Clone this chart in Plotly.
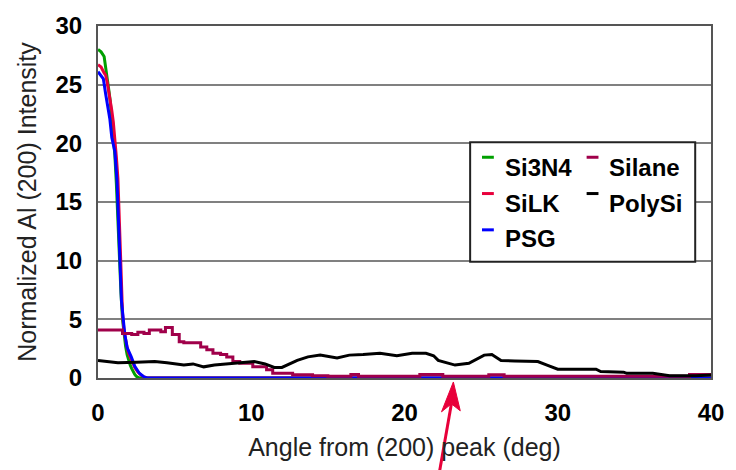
import plotly.graph_objects as go

# ---- data -------------------------------------------------------------
si3n4_x = [0, 0.2, 0.4, 0.5, 0.6, 0.7, 0.8, 0.9, 1.0, 1.1, 1.2, 1.3, 1.4, 1.5, 1.6,
           1.7, 1.8, 1.9, 2.0, 2.1, 2.2, 2.3, 2.4, 2.5, 2.6, 2.7, 40]
si3n4_y = [28.0, 27.8, 27.4, 26.6, 25.6, 24.6, 23.6, 22.2, 20.8, 19.0, 16.5, 13.0, 10.0, 7.2, 5.0,
           3.6, 2.7, 2.0, 1.5, 1.1, 0.8, 0.5, 0.3, 0.15, 0.05, 0, 0]

silk_x = [0, 0.2, 0.4, 0.5, 0.6, 0.7, 0.8, 0.9, 1.0, 1.1, 1.2, 1.3, 1.4, 1.5, 1.6,
          1.7, 1.8, 1.9, 2.0, 2.2, 2.4, 2.6, 2.8, 3.0, 3.2, 40]
silk_y = [26.7, 26.5, 26.0, 25.8, 25.2, 24.5, 23.8, 22.8, 21.8, 20.5, 18.8, 17.0, 13.0, 9.0, 5.5,
          4.0, 3.2, 2.6, 2.1, 1.5, 0.9, 0.5, 0.25, 0.1, 0, 0]

psg_x = [0, 0.2, 0.35, 0.5, 0.6, 0.77, 0.9, 1.1, 1.24, 1.3, 1.42, 1.53, 1.74, 1.9,
         2.17, 2.4, 2.7, 3.0, 3.2, 40]
psg_y = [26.1, 25.8, 25.5, 24.2, 23.5, 22.1, 20.5, 19.3, 16.8, 14.5, 9.4, 6.6, 3.8, 2.6,
         1.8, 1.0, 0.4, 0.1, 0, 0]

silane_x = [0, 1.6, 2.2, 2.6, 3.0, 3.35, 4.1, 4.4, 4.85, 5.3, 5.6, 6.7, 7.1, 7.5, 8.0,
            8.4, 8.8, 9.25, 10.1, 11.0, 11.4, 12.7, 14.0, 15.0, 16.5, 17.0, 21.0, 22.5,
            25.5, 26.5, 29.5, 38.6, 39.6, 40]
silane_y = [4.1, 3.8, 3.7, 3.9, 3.8, 4.1, 3.95, 4.3, 3.7, 3.1, 3.0, 2.65, 2.4, 2.1, 2.0,
            1.8, 1.4, 1.25, 0.95, 0.7, 0.4, 0.28, 0.2, 0.15, 0.3, 0.15, 0.3, 0.15,
            0.28, 0.15, 0.15, 0.3, 0.3, 0.3]

polysi_x = [0, 0.8, 1.3, 2.5, 3.7, 4.5, 5.6, 6.2, 6.9, 7.6, 8.4, 9.5, 10.2, 10.9, 11.5,
            12.0, 12.6, 13.0, 13.7, 14.5, 15.6, 16.4, 17.3, 18.4, 19.5, 20.5, 21.4, 21.9,
            22.2, 22.7, 23.3, 24.2, 24.7, 25.2, 25.7, 26.3, 27.2, 28.7, 29.3, 30.0, 32.5,
            32.8, 34.3, 34.5, 36.2, 37.3, 39.0, 40]
polysi_y = [1.5, 1.4, 1.3, 1.35, 1.4, 1.3, 1.1, 1.2, 0.95, 1.1, 1.2, 1.3, 1.4, 1.2, 0.9,
            0.9, 1.25, 1.5, 1.8, 1.95, 1.7, 1.95, 2.0, 2.1, 1.9, 2.1, 2.1, 1.9,
            1.5, 1.3, 1.1, 1.25, 1.6, 1.95, 2.0, 1.5, 1.45, 1.4, 1.1, 0.75, 0.75,
            0.55, 0.5, 0.4, 0.4, 0.2, 0.2, 0.25]

x_ticks = [0, 10, 20, 30, 40]
y_ticks = [0, 5, 10, 15, 20, 25, 30]

series = [
    ("Si3N4", si3n4_x, si3n4_y, "#00a000", "linear"),
    ("SiLK", silk_x, silk_y, "#e8003c", "linear"),
    ("PSG", psg_x, psg_y, "#0000ff", "linear"),
    ("Silane", silane_x, silane_y, "#a0004a", "hv"),
    ("PolySi", polysi_x, polysi_y, "#000000", "linear"),
]

# ---- page geometry (pixels) ---------------------------------------------
W, H = 736, 470
ML, MR, MT, MB = 98, 17, 24, 92
PW, PH = W - ML - MR, H - MT - MB


def px(xp):
    return (xp - ML) / PW


def py(yp):
    return (H - MB - yp) / PH


FONT = "Liberation Sans, Arial, sans-serif"

fig = go.Figure()
for name, xs, ys, color, shape in series:
    fig.add_trace(go.Scatter(x=xs, y=ys, mode="lines", name=name,
                             line=dict(color=color, width=3, shape=shape),
                             showlegend=False))

# legend box with short swatches placed above the text baseline
shapes = [dict(type="rect", xref="paper", yref="paper",
               x0=px(475), x1=px(703), y0=py(261), y1=py(141),
               fillcolor="white", line=dict(color="#222222", width=2), layer="above")]
annotations = []
legend_slots = [("Si3N4", 0, 0), ("SiLK", 0, 1), ("PSG", 0, 2),
                ("Silane", 1, 0), ("PolySi", 1, 1)]
colors = {s[0]: s[3] for s in series}
col_sw = [487, 593]
col_tx = [508, 614]
row_sw = [156, 192.5, 229]
row_tx = [166, 203, 238]
for name, c, r in legend_slots:
    shapes.append(dict(type="line", xref="paper", yref="paper",
                       x0=px(col_sw[c]), x1=px(col_sw[c] + 12),
                       y0=py(row_sw[r]), y1=py(row_sw[r]),
                       line=dict(color=colors[name], width=3), layer="above"))
    annotations.append(dict(text=name, xref="paper", yref="paper",
                            x=px(col_tx[c]), y=py(row_tx[r]),
                            xanchor="left", yanchor="middle", showarrow=False,
                            font=dict(family=FONT, size=24, color="black", weight="bold")))

# red pointer arrow below the axis
RED = "#e8003a"
shapes.append(dict(type="line", xref="paper", yref="paper",
                   x0=px(444), y0=py(472), x1=px(456), y1=py(404),
                   line=dict(color=RED, width=3)))
shapes.append(dict(type="path", xref="paper", yref="paper",
                   path=(f"M {px(458)},{py(382)} L {px(446)},{py(412)} "
                         f"L {px(456)},{py(404)} L {px(465)},{py(411)} Z"),
                   fillcolor=RED, line=dict(color=RED, width=1)))

fig.update_layout(
    width=W, height=H,
    margin=dict(l=ML, r=MR, t=MT, b=MB, pad=0),
    paper_bgcolor="white", plot_bgcolor="white",
    shapes=shapes, annotations=annotations,
    font=dict(family=FONT, color="black"),
)
fig.update_xaxes(
    range=[0, 40], tickvals=x_ticks, showgrid=False, zeroline=False,
    showline=True, linecolor="#555555", linewidth=2, mirror=True,
    ticks="", ticklabelstandoff=12,
    tickfont=dict(family=FONT, size=24, color="black", weight="bold"),
    title=dict(text="Angle from (200) peak (deg)", standoff=14,
               font=dict(family=FONT, size=25, color="#222222")),
)
fig.update_yaxes(
    range=[0, 30], tickvals=y_ticks, showgrid=True, gridcolor="#808080", gridwidth=2,
    zeroline=False, showline=True, linecolor="#555555", linewidth=2, mirror=True,
    ticks="", ticklabelstandoff=9,
    tickfont=dict(family=FONT, size=24, color="black", weight="bold"),
    title=dict(text="Normalized Al (200) Intensity", standoff=12,
               font=dict(family=FONT, size=25, color="#222222")),
)

fig.write_html("out.html")
